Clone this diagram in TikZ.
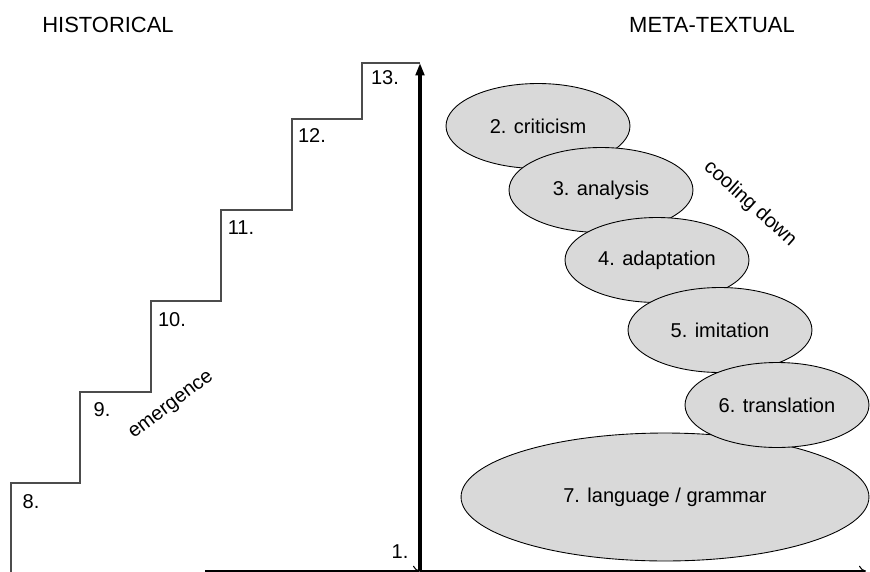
\documentclass[tikz,border=0pt]{standalone}
\usepackage{fontspec}
\setmainfont{Liberation Sans}
\usetikzlibrary{arrows.meta}
\usetikzlibrary{shapes.geometric}

\tikzset{
  stage/.style={ellipse, draw=black, line width=0.5pt, fill=black!15, inner sep=0pt,
    minimum width=3.68cm, minimum height=1.7cm, font=\fontsize{11.4}{13}\selectfont},
  num/.style={inner sep=0pt, font=\fontsize{11.4}{13}\selectfont},
  heading/.style={inner sep=0pt, font=\fontsize{12.5}{14}\selectfont},
  stair/.style={draw=black!70, line width=0.6pt},
}

\begin{document}
\begin{tikzpicture}[x=0.02cm, y=-0.02cm]
\useasboundingbox (0,0) rectangle (870,572);
\coordinate (base) at (11,572);
\coordinate (c8) at (11,483);
\coordinate (c9) at (80,392);
\coordinate (c10) at (151,301);
\coordinate (c11) at (221,210);
\coordinate (c12) at (292,119);
\coordinate (c13) at (362,63);
\coordinate (top) at (420,63);
\coordinate (origin) at (420,571);
\coordinate (left) at (205,571);
\coordinate (right) at (866,571);
\begin{scope}
% headings
\node[heading] (hist) at (108,25) {HISTORICAL};
\node[heading] (meta) at (712,25) {META-TEXTUAL};
% draws the stairs
\draw[stair] (base) -- (c8) -| (c9) -| (c10) -| (c11) -| (c12) -| (c13) -- (top);
% labels steps
\node[num] (l8) at (31,502) {8.};
\node[num] (l9) at (102,410) {9.};
\node[num] (l10) at (172,320) {10.};
\node[num] (l11) at (241,228) {11.};
\node[num] (l12) at (312,136) {12.};
\node[num] (l13) at (385,78) {13.};
\node[num] (l1) at (400,552) {1.};
\node[num, rotate=37] (emerg) at (172,406) {emergence};
% draws axes
\draw[line width=0.6pt, -{To[length=4pt, width=6pt]}] (left) -- (origin);
\draw[line width=0.6pt, -{To[length=4pt, width=6pt]}] (origin) -- (right);
\draw[line width=1.8pt, -{Triangle[length=7pt, width=4.8pt]}] (origin) -- (top);
% draws stages
\node[stage, minimum width=8.16cm, minimum height=2.56cm] (s7) at (665,497) {7. language / grammar};
\node[stage] (s2) at (538,126) {2. criticism};
\node[stage] (s3) at (601,190) {3. analysis};
\node[stage] (s4) at (657,260) {4. adaptation};
\node[stage] (s5) at (720,330) {5. imitation};
\node[stage] (s6) at (777,405) {6. translation};
\node[num, rotate=-42] (cool) at (750,204) {cooling down};
\end{scope}
\end{tikzpicture}
\end{document}
